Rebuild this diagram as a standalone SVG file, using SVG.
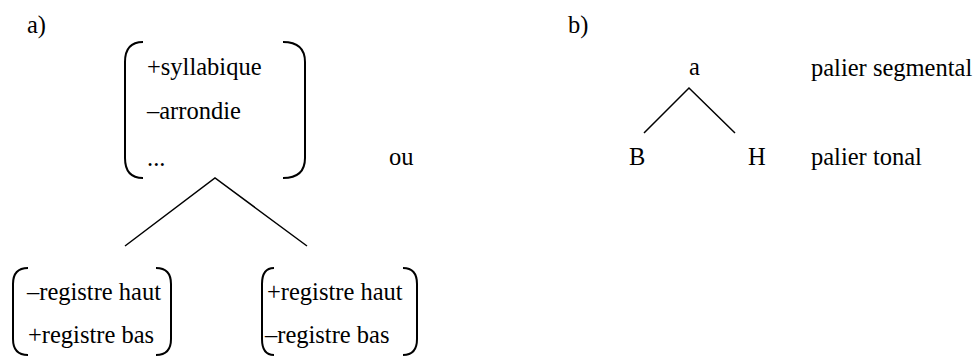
<svg xmlns="http://www.w3.org/2000/svg" width="975" height="358" viewBox="0 0 975 358">
<style>
text{font-family:'Liberation Serif','DejaVu Serif',serif;font-size:24.5px;fill:#000}
.br{fill:none;stroke:#000;stroke-width:2}
.ln{stroke:#000;stroke-width:1.5;fill:none}
</style>
<rect width="975" height="358" fill="#fff"/>
<text x="27" y="33">a)</text>
<text x="568" y="33">b)</text>
<g id="top">
<path class="br" d="M143 42 Q125 42 125 62 L125 158 Q125 178 143 178"/>
<path class="br" d="M283 42 Q305 42 305 62 L305 158 Q305 178 283 178"/>
<text x="147" y="75">+syllabique</text>
<text x="147" y="119">–arrondie</text>
<text x="147" y="166">...</text>
</g>
<g id="left">
<path class="br" d="M28 268 Q13 268 13 284 L13 339 Q13 355 28 355"/>
<path class="br" d="M156 268 Q171 268 171 284 L171 339 Q171 355 156 355"/>
<text x="27" y="300">–registre haut</text>
<text x="28" y="343">+registre bas</text>
</g>
<g id="right">
<path class="br" d="M274 268 Q262 268 262 284 L262 339 Q262 355 274 355"/>
<path class="br" d="M403 268 Q417 268 417 284 L417 339 Q417 355 403 355"/>
<text x="267" y="300">+registre haut</text>
<text x="265" y="343">–registre bas</text>
</g>
<text x="389" y="165">ou</text>
<g id="a"><text x="689" y="75">a</text></g>
<g id="B"><text x="629" y="165">B</text></g>
<g id="H"><text x="748" y="165">H</text></g>
<text x="811" y="76">palier segmental</text>
<text x="811" y="165">palier tonal</text>
<g id="connectors">
<path class="ln" d="M125 246 L215 178 L307 246"/>
<path class="ln" d="M644 133 L689 88 L735 133"/>
</g>
</svg>
